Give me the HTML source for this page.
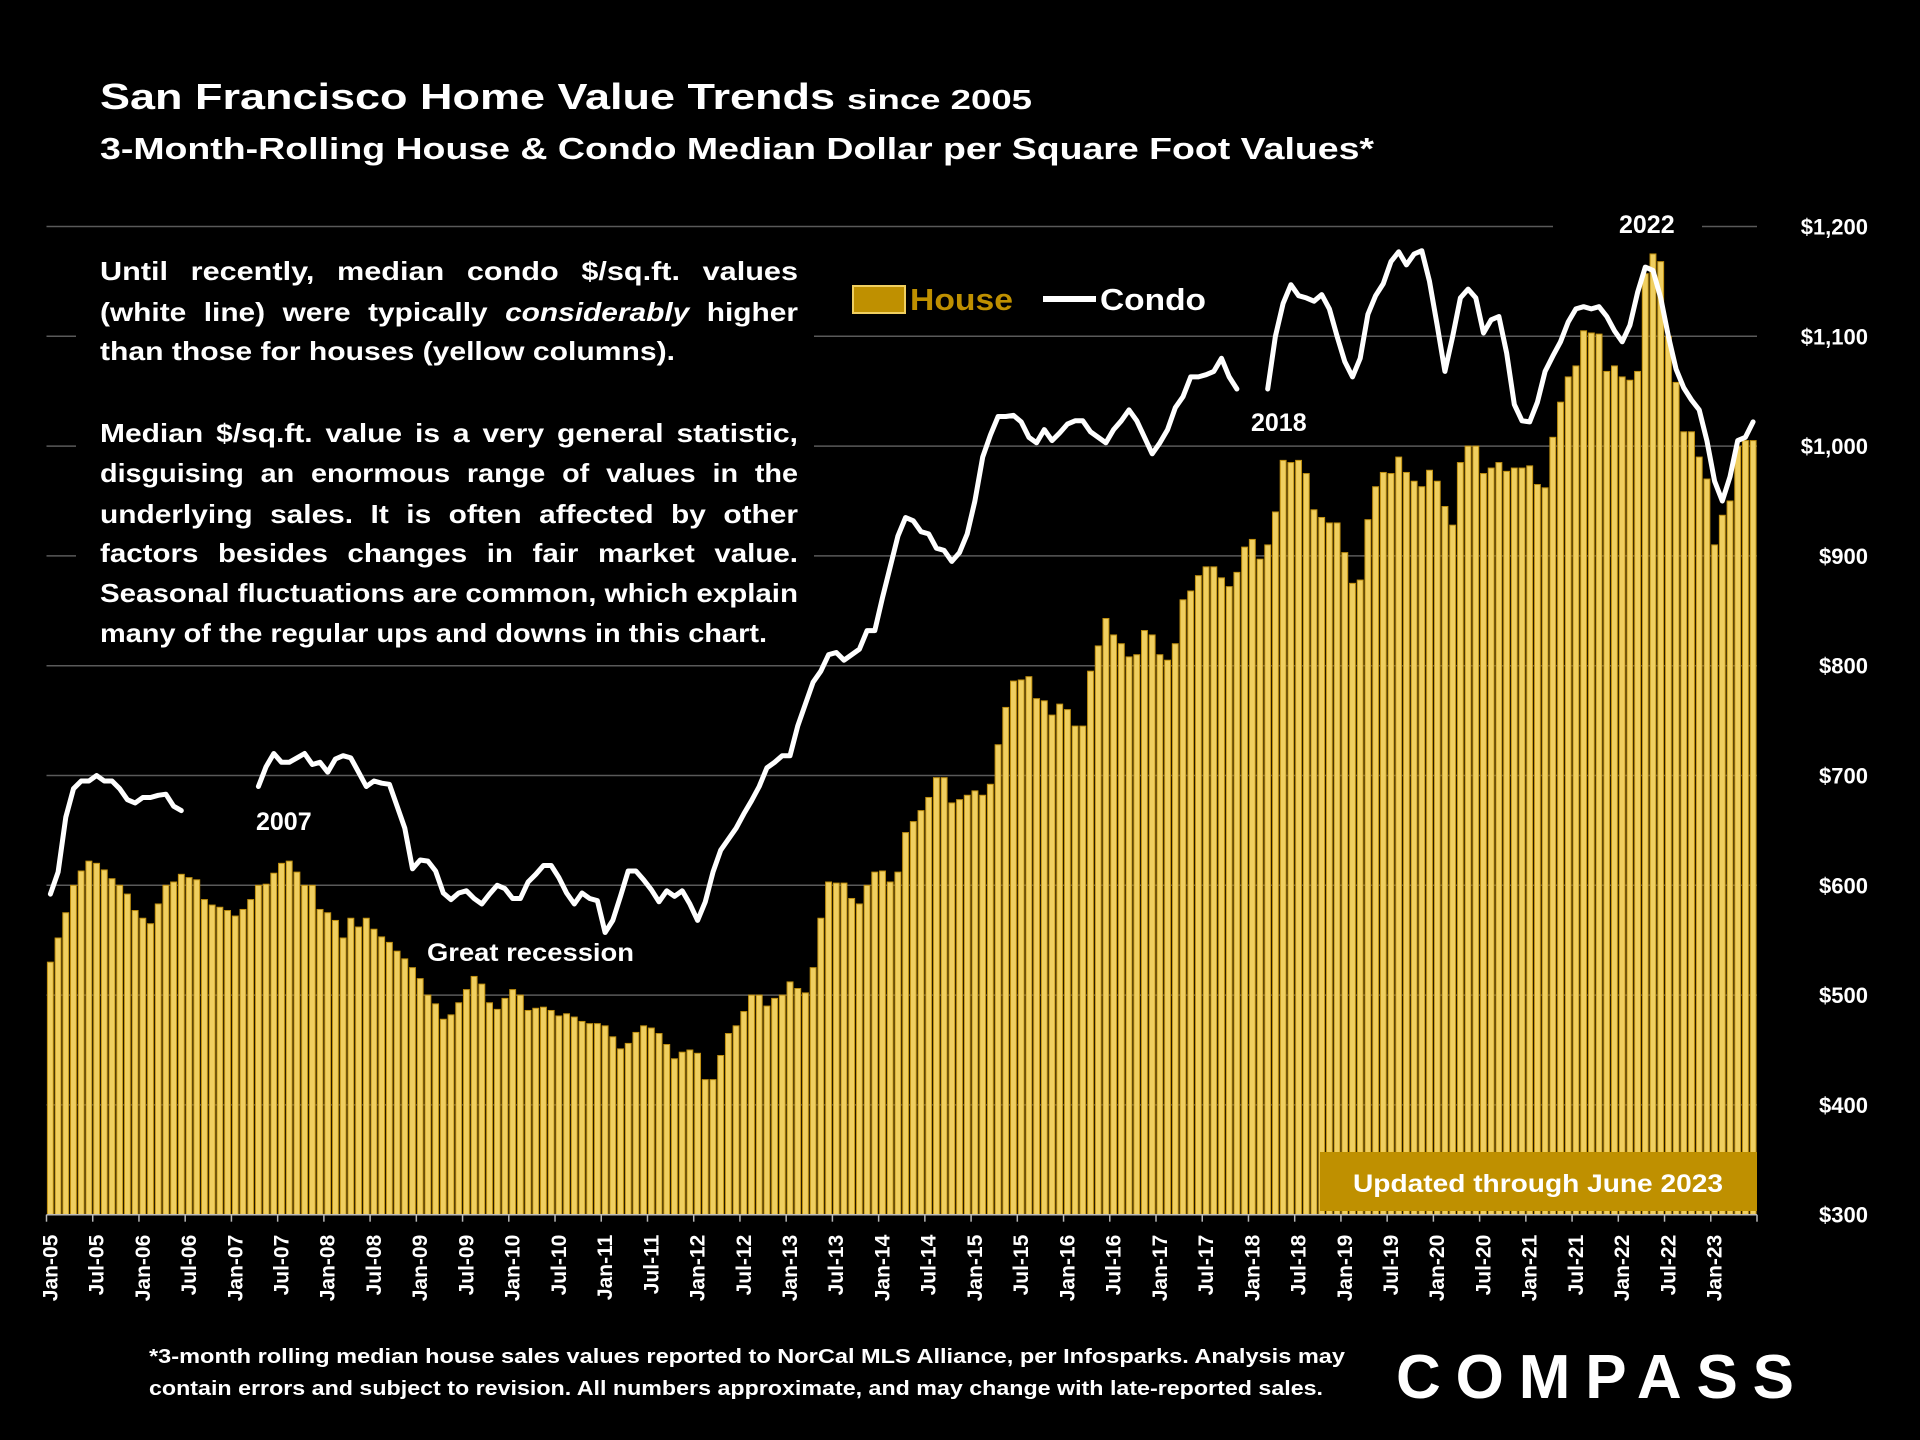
<!DOCTYPE html>
<html><head><meta charset="utf-8">
<style>
html,body{margin:0;padding:0;background:#000;}
svg{display:block;}
text{font-family:"Liberation Sans",sans-serif;font-weight:bold;fill:#fff;}
</style></head>
<body>
<svg id="chart" width="1920" height="1440" viewBox="0 0 1920 1440" xmlns="http://www.w3.org/2000/svg">
<rect x="0" y="0" width="1920" height="1440" fill="#000"/>
<g id="grid"></g>
<g id="bars"></g>
<g id="condo"></g>
<g id="axes"></g>

<text x="100" y="109" font-size="36" textLength="735" lengthAdjust="spacingAndGlyphs">San Francisco Home Value Trends</text>
<text x="847" y="109" font-size="28" font-weight="normal" textLength="185" lengthAdjust="spacingAndGlyphs">since 2005</text>
<text x="100" y="159" font-size="31" textLength="1274" lengthAdjust="spacingAndGlyphs">3-Month-Rolling House &amp; Condo Median Dollar per Square Foot Values*</text>

<g>
<rect x="76" y="244" width="738" height="412" fill="#000"/>
<text x="100" y="280" font-size="26" textLength="698" lengthAdjust="spacingAndGlyphs" word-spacing="12">Until recently, median condo $/sq.ft. values</text>
<text x="100" y="321" font-size="26" textLength="698" lengthAdjust="spacingAndGlyphs" word-spacing="8">(white line) were typically <tspan font-style="italic">considerably</tspan> higher</text>
<text x="100" y="360" font-size="26" textLength="575" lengthAdjust="spacingAndGlyphs">than those for houses (yellow columns).</text>
<text x="100" y="442" font-size="26" textLength="698" lengthAdjust="spacingAndGlyphs" word-spacing="4">Median $/sq.ft. value is a very general statistic,</text>
<text x="100" y="482" font-size="26" textLength="698" lengthAdjust="spacingAndGlyphs" word-spacing="8">disguising an enormous range of values in the</text>
<text x="100" y="523" font-size="26" textLength="698" lengthAdjust="spacingAndGlyphs" word-spacing="8">underlying sales. It is often affected by other</text>
<text x="100" y="562" font-size="26" textLength="698" lengthAdjust="spacingAndGlyphs" word-spacing="10">factors besides changes in fair market value.</text>
<text x="100" y="602" font-size="26" textLength="698" lengthAdjust="spacingAndGlyphs">Seasonal fluctuations are common, which explain</text>
<text x="100" y="642" font-size="26" textLength="667" lengthAdjust="spacingAndGlyphs">many of the regular ups and downs in this chart.</text>
</g>

<g>
<rect x="853" y="286" width="52" height="27" fill="#bf9000" stroke="#f0cf60" stroke-width="2"/>
<text x="910" y="310" font-size="31" style="fill:#bf9000" textLength="103" lengthAdjust="spacingAndGlyphs">House</text>
<line x1="1043" y1="299" x2="1096" y2="299" stroke="#fff" stroke-width="6"/>
<text x="1100" y="310" font-size="31" textLength="106" lengthAdjust="spacingAndGlyphs">Condo</text>
</g>

<text x="256" y="830" font-size="25">2007</text>
<text x="427" y="961" font-size="25" textLength="207" lengthAdjust="spacingAndGlyphs">Great recession</text>
<rect x="1240" y="400" width="80" height="40" fill="#000"/>
<text x="1251" y="431" font-size="25">2018</text>
<rect x="1553" y="205" width="149" height="40" fill="#000"/>
<text x="1619" y="233" font-size="25">2022</text>

<g>
<rect x="1320" y="1152" width="437" height="59" fill="#bf9000"/>
<text x="1538" y="1192" font-size="25" text-anchor="middle" textLength="370" lengthAdjust="spacingAndGlyphs">Updated through June 2023</text>
</g>

<g>
<text x="149" y="1363" font-size="20" textLength="1196" lengthAdjust="spacingAndGlyphs">*3-month rolling median house sales values reported to NorCal MLS Alliance, per Infosparks. Analysis may</text>
<text x="149" y="1395" font-size="20" textLength="1174" lengthAdjust="spacingAndGlyphs">contain errors and subject to revision. All numbers approximate, and may change with late-reported sales.</text>
</g>
<text x="1396" y="1398" font-size="62" font-weight="normal" textLength="398" lengthAdjust="spacing">COMPASS</text>
</svg>
<script>
const house = [
530,552,575,600,613,622,620,614,606,600,592,577,
570,565,583,600,603,610,607,605,587,582,580,577,
572,578,587,600,601,611,620,622,612,600,600,578,
575,568,552,570,562,570,560,553,548,540,533,525,
515,500,492,478,482,493,505,517,510,493,487,497,
505,500,486,488,489,486,481,483,480,476,474,474,
472,462,451,456,466,472,470,465,455,442,448,450,
447,423,423,445,465,472,485,500,500,490,497,500,
512,506,502,525,570,603,602,602,588,583,600,612,
613,603,612,648,658,668,680,698,698,675,678,682,
686,682,692,728,762,786,787,790,770,768,755,765,
760,745,745,795,818,843,828,820,808,810,832,828,
810,805,820,860,868,882,890,890,880,872,885,908,
915,897,910,940,987,985,987,975,942,935,930,930,
903,875,878,933,963,976,975,990,976,968,963,978,
968,945,928,985,1000,1000,975,980,985,977,980,980,
982,965,962,1008,1040,1063,1073,1105,1103,1102,1068,1073,
1063,1060,1068,1157,1175,1168,1100,1058,1013,1013,990,970,
910,937,950,1000,1005,1005];
const condo = [
592,612,662,688,695,695,700,695,695,688,678,675,
680,680,682,683,672,668,null,null,null,null,null,null,
null,null,null,690,708,720,712,712,716,720,710,712,
703,715,718,716,703,690,695,693,692,672,652,615,
623,622,613,593,587,593,595,588,583,592,600,597,
588,588,603,610,618,618,607,593,583,593,588,586,
557,568,590,613,613,605,596,585,595,590,595,583,
568,585,612,632,642,652,665,677,690,707,712,718,
718,745,765,785,795,810,812,805,810,815,832,832,
862,890,918,935,932,922,920,907,905,895,903,920,
950,990,1010,1027,1027,1028,1022,1008,1003,1015,1005,1012,
1020,1023,1023,1013,1008,1003,1015,1023,1033,1023,1008,993,
1003,1015,1035,1045,1063,1063,1065,1068,1080,1063,1052,null,
null,null,1052,1100,1130,1147,1137,1135,1132,1138,1125,1100,
1077,1063,1080,1120,1137,1148,1168,1177,1165,1175,1178,1150,
1110,1068,1100,1135,1143,1135,1103,1115,1118,1085,1038,1023,
1022,1040,1068,1082,1095,1113,1125,1127,1125,1127,1118,1105,
1095,1110,1140,1163,1160,1135,1100,1070,1053,1042,1033,1005,
968,950,972,1005,1008,1022];
const yTicks = [300,400,500,600,700,800,900,1000,1100,1200];
const yTickLabels = ["$300","$400","$500","$600","$700","$800","$900","$1,000","$1,100","$1,200"];
const monthNames = ["Jan","Jul"];
const startYear = 2005;

const NS="http://www.w3.org/2000/svg";
const X0=46.5, X1=1757, Y0=1214.7, Y1=226.5, VMIN=300, VMAX=1200;
const N=house.length;
const step=(X1-X0)/N;
function xScale(i){return X0+i*step;}
function yScale(v){return Y0-(v-VMIN)*(Y0-Y1)/(VMAX-VMIN);}
function mk(tag,attrs,parent){const e=document.createElementNS(NS,tag);for(const k in attrs)e.setAttribute(k,attrs[k]);parent.appendChild(e);return e;}

const grid=document.getElementById('grid');
const axes=document.getElementById('axes');
yTicks.forEach((v,i)=>{
  if(i>0){
    const l=mk('line',{x1:X0,x2:X1,y1:yScale(v),y2:yScale(v),stroke:'#5a5a5a','stroke-width':1.5},grid);
    
    
  }
  const t=mk('text',{x:1868,y:yScale(v)+8,'font-size':22,'text-anchor':'end'},axes);
  t.textContent=yTickLabels[i];
  
  
});

const bars=document.getElementById('bars');
house.forEach((v,i)=>{
  const y=yScale(v);
  const r=mk('rect',{x:xScale(i)+0.9,y:y,width:step-1.8,height:Y0-y,fill:'#f0cf60',stroke:'#c09010','stroke-width':1},bars);
  
  
});

const cg=document.getElementById('condo');
let seg=[];
function flush(){
  if(seg.length>1){
    const p=mk('polyline',{points:seg.join(' '),fill:'none',stroke:'#fff','stroke-width':5,'stroke-linejoin':'round','stroke-linecap':'round'},cg);
    
    
  }
  seg=[];
}
condo.forEach((v,i)=>{
  if(v==null){flush();return;}
  seg.push((xScale(i)+step/2).toFixed(1)+','+yScale(v).toFixed(1));
});
flush();

const ax=mk('line',{x1:X0,x2:X1,y1:Y0,y2:Y0,stroke:'#bbb','stroke-width':1.5},axes);


for(let i=0;i<=N;i+=6){
  const tk=mk('line',{x1:xScale(i),x2:xScale(i),y1:Y0,y2:Y0+7,stroke:'#bbb','stroke-width':1.5},axes);
  
  
  if(i<N){
    const yr=String((startYear+Math.floor(i/12))%100).padStart(2,'0');
    const lbl=monthNames[(i%12)/6]+'-'+yr;
    const cx=xScale(i)+step/2+7, cy=Y0+20;
    const t=mk('text',{x:cx,y:cy,'font-size':21,'text-anchor':'end',transform:'rotate(-90 '+cx+' '+cy+')'},axes);
    t.textContent=lbl;
    
    
  }
}
</script>
</body></html>
